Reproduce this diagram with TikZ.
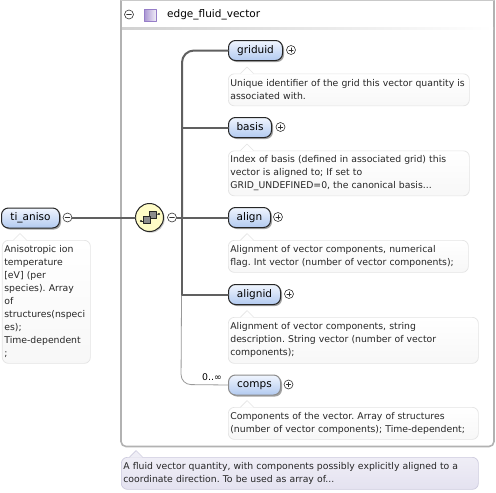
\documentclass[tikz,border=0pt]{standalone}
\usepackage{fontspec}
\setmainfont{DejaVu Sans}
\usetikzlibrary{shadows}
\definecolor{elemtop}{RGB}{240,245,254}
\definecolor{elembot}{RGB}{178,202,240}
\definecolor{docline}{RGB}{228,228,228}
\definecolor{framecol}{RGB}{178,178,178}
\definecolor{linecol}{RGB}{96,96,96}
\definecolor{typefill}{RGB}{228,226,240}
\definecolor{typeline}{RGB}{205,203,222}
\definecolor{iconcol}{RGB}{150,125,200}
\frenchspacing
\tikzset{
  elem/.style={draw=black!85, line width=1pt, rounded corners=7pt, top color=elemtop, bottom color=elembot,
    anchor=north west, minimum height=20pt, inner sep=0pt, text height=7.5pt, text depth=2pt, font=\fontsize{10.5}{12}\selectfont,
    drop shadow={shadow xshift=1.5pt, shadow yshift=-1.5pt, fill=black!45, opacity=0.8}},
  docbox/.style={draw=docline, line width=0.7pt, rounded corners=6pt, top color=white, bottom color=black!3,
    anchor=north west, inner sep=2pt, align=left, font=\fontsize{9.3}{13}\selectfont, text=black!85},
  conn/.style={draw=linecol, line width=2pt},
  toggle/.style={circle, draw=black!80, fill=white, line width=0.6pt, minimum size=9pt, inner sep=0pt},
  minussign/.style={toggle, path picture={\draw[line width=0.6pt] ([xshift=-2.4pt]path picture bounding box.center) -- ([xshift=2.4pt]path picture bounding box.center);}},
  plussign/.style={toggle, path picture={
    \draw[line width=0.6pt] ([xshift=-2.2pt]path picture bounding box.center) -- ([xshift=2.2pt]path picture bounding box.center);
    \draw[line width=0.6pt] ([yshift=-2.2pt]path picture bounding box.center) -- ([yshift=2.2pt]path picture bounding box.center);}},
}
\begin{document}
\begin{tikzpicture}[x=1pt, y=-1pt, line cap=round, line join=round]
  \useasboundingbox (0,0) rectangle (496,493);
  \fill[white] (0,0) rectangle (496,493);
  % the group frame and its header
  \draw[framecol, line width=1.6pt, rounded corners=5pt] (121,0.5) -- (121,446.5) -- (494,446.5) -- (494,0.5);
  \draw[framecol!70, line width=1pt] (121,0.5) -- (494,0.5);
  \shade[left color=black!18, right color=white] (122,27.5) rectangle (493,29.5);
  \node[minussign] (groupminus) at (129,14.5) {};
  \node[draw=iconcol, line width=0.7pt, left color=iconcol!80, right color=iconcol!10, minimum size=12pt, inner sep=0pt] (groupicon) at (150.5,15.5) {};
  \node[anchor=west, font=\fontsize{10.5}{12}\selectfont, inner sep=0pt] (groupname) at (167,14.5) {edge\_fluid\_vector};
  % the root element
  \node[elem, minimum width=58pt] (root) at (1,207.5) {ti\_aniso};
  \node[minussign] (rootminus) at (67.5,217.5) {};
  \node[docbox, text width=84pt, minimum height=123pt] (rootdoc) at (2,240) {Anisotropic ion\\temperature\\{[eV]} (per\\species). Array\\of\\structures(nspeci\\es);\\Time-dependent\\;};
  % the sequence symbol
  \node[circle, draw=black!85, line width=1pt, fill=yellow!22, minimum size=28pt, inner sep=0pt,
    drop shadow={shadow xshift=1.2pt, shadow yshift=-1.2pt, fill=black!45}] (seq) at (149.5,217.5) {};
  \node[minussign] (seqminus) at (172,217.5) {};
  \coordinate (trunk) at (182,217.5);
  \draw[black!85, line width=0.8pt] (141,221) -- (147,221);
  \draw[black!85, line width=0.8pt] (153,215) -- (159,214);
  \fill[black!85] (141,221) circle (1.1) (159,214) circle (1.1);
  \foreach \x/\y in {153/215, 147/220} {
    \draw[black!85, fill=black!45, line width=0.6pt] (\x-3.5,\y-3.5) rectangle (\x+3.5,\y+3.5);
  }
  % the children, with their toggles and notes
  \foreach \name/\ytop/\wdt/\px/\bordercol in {griduid/40/54/291/black!85, basis/117/43/280.5/black!85, align/207/42/278/black!85, alignid/284/52/289/black!85, comps/374.5/52/288.5/black!45} {
    \node[elem, draw=\bordercol, minimum width=\wdt pt] (\name) at (228,\ytop) {\name};
    \node[plussign] (\name plus) at (\px,\ytop+10) {};
  }
  \draw[black!40, line width=0.8pt, rounded corners=10pt] (trunk) -- (181,384.5) -- (comps.west);
  \draw[conn] (rootminus) -- (seq);
  \draw[conn] (seqminus) -- (trunk);
  \draw[conn, rounded corners=12pt] (trunk) |- (griduid.west);
  \draw[conn] (trunk |- basis.west) -- (basis.west);
  \draw[conn] (trunk) -- (align.west);
  \draw[conn] (trunk) |- (alignid.west);
  \node[anchor=east, inner sep=0pt, font=\fontsize{9.3}{11}\selectfont] (compsocc) at (222,377) {0..∞};
  \node[docbox, text width=237pt, minimum height=32pt] (griduiddoc) at (228,73.5) {Unique identifier of the grid this vector quantity is\\associated with.};
  \node[docbox, text width=237pt, minimum height=45pt] (basisdoc) at (228,150.5) {Index of basis (defined in associated grid) this\\vector is aligned to; If set to\\GRID\_UNDEFINED=0, the canonical basis...};
  \node[docbox, text width=236pt, minimum height=32pt] (aligndoc) at (228,240) {Alignment of vector components, numerical\\flag. Int vector (number of vector components);};
  \node[docbox, text width=246pt, minimum height=46pt] (aligniddoc) at (228,317) {Alignment of vector components, string\\description. String vector (number of vector\\components);};
  \node[docbox, text width=246pt, minimum height=32pt] (compsdoc) at (228,407) {Components of the vector. Array of structures\\(number of vector components); Time-dependent;};
  \node[docbox, draw=typeline, top color=typefill!60, bottom color=typefill, text width=353pt, minimum height=32pt] (typedoc) at (121,457) {A fluid vector quantity, with components possibly explicitly aligned to a\\coordinate direction. To be used as array of...};
  % the little tips on top of the notes
  \foreach \x/\y in {20/240, 247/73.5, 247/150.5, 247/240, 247/317, 247/407} {
    \fill[white] (\x-6.5,\y+0.6) -- (\x,\y-6.5) -- (\x+6.5,\y+0.6) -- cycle;
    \draw[docline, line width=0.7pt] (\x-6.5,\y) -- (\x,\y-6.5) -- (\x+6.5,\y);
  }
  \fill[typefill!60] (129.5,457.6) -- (136,450.5) -- (142.5,457.6) -- cycle;
  \draw[typeline, line width=0.7pt] (129.5,457) -- (136,450.5) -- (142.5,457);
\end{tikzpicture}
\end{document}
